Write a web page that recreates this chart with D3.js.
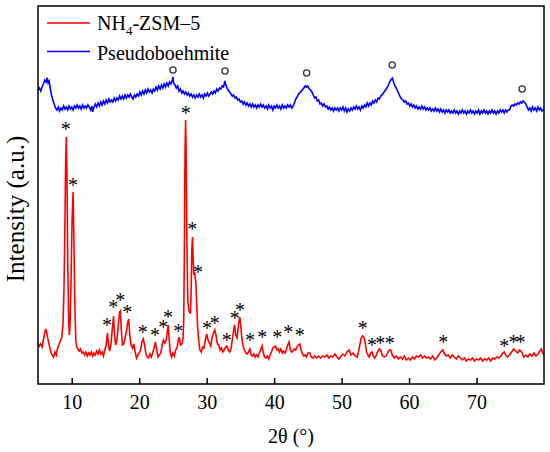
<!DOCTYPE html>
<meta charset="utf-8">
<style>

body { margin: 0; background: #fff; }

svg, svg text {
  font-family: "Liberation Serif", "Times New Roman", Times, serif;
  fill: #000;
}

.frame {
  fill: none;
  stroke: #000;
  stroke-width: 1.5px;
}

.axis path { display: none; }

.axis line {
  stroke: #000;
  stroke-width: 1.5px;
}

.line-zsm {
  fill: none;
  stroke: #ff0000;
  stroke-width: 1.6px;
}

.line-pb {
  fill: none;
  stroke: #0000ff;
  stroke-width: 1.6px;
}

.ring {
  fill: none;
  stroke: #333;
  stroke-width: 1.3px;
}

</style>
<svg width="550" height="452"></svg>
<script src="https://d3js.org/d3.v7.min.js"></script>
<script>

var serif = "'Liberation Serif', 'Times New Roman', serif";

// 2theta (deg), intensity (a.u.)
var zsmPattern = [[5.0,41],[5.2,38],[5.4,40],[5.6,37],[5.8,44],[6.0,51],[6.15,55],[6.3,51],[6.5,44],[6.7,38],[6.9,32],[7.1,29],[7.3,27],[7.5,32],[7.7,29],[7.9,36],[8.1,39],[8.3,43],[8.5,46],[8.7,59],[8.85,94],[9.0,164],[9.1,224],[9.2,247],[9.3,204],[9.4,124],[9.55,64],[9.65,49],[9.75,59],[9.9,104],[10.05,164],[10.2,192],[10.3,154],[10.45,84],[10.6,44],[10.75,37],[10.9,35],[11.1,33],[11.3,35],[11.5,31],[11.7,32],[11.9,29],[12.1,32],[12.3,28],[12.5,31],[12.7,29],[12.9,32],[13.1,28],[13.3,31],[13.5,29],[13.7,33],[13.9,30],[14.1,34],[14.3,30],[14.5,32],[14.7,28],[14.9,34],[15.1,39],[15.3,51],[15.45,39],[15.6,33],[15.8,39],[16.0,54],[16.2,68],[16.35,49],[16.5,39],[16.7,44],[16.9,59],[17.1,72],[17.2,73],[17.35,54],[17.5,39],[17.7,40],[17.9,46],[18.1,52],[18.3,62],[18.45,65],[18.6,49],[18.8,39],[19.0,36],[19.2,40],[19.4,32],[19.6,26],[19.8,29],[20.0,31],[20.2,34],[20.4,42],[20.6,45],[20.8,39],[21.0,30],[21.2,27],[21.4,26],[21.6,30],[21.8,27],[22.0,31],[22.2,36],[22.4,42],[22.6,34],[22.8,27],[23.0,29],[23.2,31],[23.4,39],[23.6,44],[23.8,41],[24.0,44],[24.15,52],[24.3,59],[24.45,44],[24.6,32],[24.8,27],[25.0,31],[25.2,28],[25.4,34],[25.6,36],[25.8,44],[25.95,47],[26.1,39],[26.3,40],[26.5,46],[26.6,64],[26.7,134],[26.75,199],[26.8,234],[26.88,264],[26.95,234],[27.05,154],[27.2,84],[27.35,74],[27.5,71],[27.6,71],[27.7,94],[27.8,134],[27.9,147],[28.0,124],[28.1,109],[28.2,112],[28.3,106],[28.4,102],[28.5,84],[28.65,59],[28.8,44],[29.0,34],[29.2,32],[29.4,37],[29.6,36],[29.8,44],[30.0,50],[30.2,44],[30.4,41],[30.6,38],[30.8,46],[31.0,51],[31.2,54],[31.4,48],[31.6,40],[31.8,39],[32.0,34],[32.2,36],[32.4,32],[32.6,34],[32.8,37],[33.0,38],[33.2,34],[33.4,32],[33.6,35],[33.8,44],[34.0,54],[34.15,59],[34.3,49],[34.5,46],[34.7,59],[34.9,67],[35.05,59],[35.2,46],[35.4,38],[35.6,34],[35.8,31],[36.0,30],[36.2,32],[36.4,35],[36.6,29],[36.8,28],[37.0,30],[37.2,27],[37.4,29],[37.6,27],[37.8,31],[38.0,34],[38.2,38],[38.4,31],[38.6,27],[38.8,26],[39.0,28],[39.2,25],[39.4,29],[39.6,32],[39.8,36],[40.0,37],[40.2,38],[40.4,34],[40.6,35],[40.8,32],[41.0,35],[41.2,31],[41.4,33],[41.6,31],[41.8,34],[42.0,39],[42.2,42],[42.4,34],[42.6,32],[42.8,33],[43.0,35],[43.2,34],[43.4,37],[43.6,39],[43.8,40],[44.0,34],[44.2,30],[44.4,28],[44.6,29],[44.8,27],[45.0,31],[45.3,31],[45.5,27],[45.8,26],[46.0,28],[46.3,26],[46.6,28],[46.9,26],[47.2,28],[47.5,27],[47.8,29],[48.1,26],[48.4,28],[48.7,27],[49.0,30],[49.3,27],[49.6,25],[49.9,28],[50.2,30],[50.5,28],[50.8,32],[51.1,34],[51.4,29],[51.7,31],[52.0,28],[52.3,27],[52.5,32],[52.7,39],[52.9,46],[53.1,48],[53.3,47],[53.5,41],[53.7,32],[53.9,29],[54.1,27],[54.3,31],[54.5,32],[54.7,28],[54.9,26],[55.1,28],[55.3,32],[55.6,35],[55.8,34],[56.0,29],[56.3,27],[56.6,28],[56.9,32],[57.1,34],[57.3,34],[57.5,29],[57.8,26],[58.1,28],[58.4,25],[58.7,27],[59.0,25],[59.3,28],[59.6,24],[59.9,26],[60.2,24],[60.5,27],[60.8,25],[61.1,28],[61.4,27],[61.7,29],[62.0,26],[62.3,28],[62.6,26],[62.9,27],[63.2,25],[63.5,28],[63.8,24],[64.1,26],[64.4,29],[64.7,32],[65.0,34],[65.2,31],[65.5,28],[65.8,29],[66.1,26],[66.4,29],[66.7,27],[67.0,25],[67.3,28],[67.6,26],[67.9,24],[68.2,26],[68.5,23],[68.8,25],[69.1,24],[69.4,26],[69.7,23],[70.0,25],[70.3,24],[70.6,26],[70.9,23],[71.2,25],[71.5,24],[71.8,26],[72.1,23],[72.4,26],[72.7,25],[73.0,27],[73.3,26],[73.6,28],[73.9,31],[74.1,32],[74.3,29],[74.6,27],[74.9,29],[75.2,32],[75.5,35],[75.8,33],[76.1,31],[76.4,34],[76.7,32],[77.0,27],[77.3,29],[77.6,27],[77.9,30],[78.2,28],[78.5,31],[78.8,28],[79.1,30],[79.4,33],[79.6,35],[79.8,31],[80.0,29]];

var pbPattern = [[5.0,294],[5.2,296],[5.4,293],[5.6,297],[5.8,300],[6.0,304],[6.2,302],[6.35,306],[6.5,301],[6.65,303],[6.8,296],[7.0,289],[7.2,284],[7.4,280],[7.6,276],[7.8,274],[8.0,277],[8.2,273],[8.4,276],[8.6,274],[8.8,278],[9.0,275],[9.2,277],[9.4,274],[9.6,278],[9.8,275],[10.0,277],[10.2,274],[10.4,278],[10.6,276],[10.8,279],[11.0,276],[11.2,278],[11.4,275],[11.6,279],[11.8,276],[12.0,278],[12.2,276],[12.4,279],[12.6,277],[12.8,274],[13.0,278],[13.1,272],[13.3,277],[13.5,280],[13.7,277],[13.9,281],[14.1,278],[14.3,282],[14.5,279],[14.7,283],[14.9,280],[15.1,284],[15.3,281],[15.5,285],[15.7,282],[15.9,284],[16.1,282],[16.3,286],[16.5,283],[16.7,286],[16.9,284],[17.1,288],[17.3,285],[17.5,288],[17.7,285],[17.9,289],[18.1,286],[18.3,289],[18.5,287],[18.7,290],[18.9,287],[19.1,285],[19.3,289],[19.5,287],[19.7,290],[19.9,288],[20.1,292],[20.3,289],[20.5,293],[20.7,290],[20.9,294],[21.1,291],[21.3,295],[21.5,292],[21.7,294],[21.9,291],[22.1,295],[22.3,293],[22.5,297],[22.7,294],[22.9,298],[23.1,295],[23.3,299],[23.5,296],[23.7,300],[23.9,297],[24.1,301],[24.3,298],[24.5,302],[24.7,300],[24.9,304],[25.0,307],[25.1,301],[25.3,299],[25.5,296],[25.7,298],[25.9,293],[26.1,295],[26.3,291],[26.5,293],[26.7,290],[26.9,292],[27.1,289],[27.3,291],[27.5,288],[27.7,290],[27.9,287],[28.1,289],[28.3,286],[28.5,289],[28.7,287],[28.9,290],[29.1,287],[29.3,289],[29.5,286],[29.7,290],[29.9,288],[30.1,291],[30.3,288],[30.5,290],[30.7,292],[30.9,290],[31.1,293],[31.3,291],[31.5,295],[31.7,293],[31.9,296],[32.1,295],[32.3,298],[32.5,297],[32.7,303],[32.8,300],[33.0,296],[33.2,294],[33.4,292],[33.6,290],[33.8,288],[34.0,289],[34.2,286],[34.4,287],[34.6,284],[34.8,285],[35.0,282],[35.2,283],[35.4,280],[35.6,282],[35.8,279],[36.0,281],[36.2,278],[36.4,280],[36.6,277],[36.8,280],[37.0,277],[37.2,279],[37.4,276],[37.6,279],[37.8,277],[38.0,280],[38.2,277],[38.4,279],[38.6,276],[38.8,278],[39.0,275],[39.2,279],[39.4,276],[39.6,278],[39.8,274],[40.0,278],[40.2,276],[40.4,279],[40.6,276],[40.8,278],[41.0,275],[41.2,279],[41.4,276],[41.6,278],[41.8,276],[42.0,279],[42.2,277],[42.4,279],[42.6,276],[42.8,278],[43.0,281],[43.2,285],[43.4,287],[43.6,290],[43.8,291],[44.0,293],[44.2,294],[44.4,296],[44.6,298],[44.8,297],[45.0,298],[45.2,295],[45.4,294],[45.6,292],[45.8,289],[46.0,286],[46.2,287],[46.4,283],[46.6,284],[46.8,280],[47.0,281],[47.2,278],[47.4,280],[47.6,277],[47.8,278],[48.0,275],[48.2,277],[48.4,274],[48.6,276],[48.8,273],[49.0,276],[49.2,274],[49.4,276],[49.6,273],[49.8,276],[50.0,274],[50.2,277],[50.4,273],[50.6,276],[50.8,272],[51.0,275],[51.2,273],[51.4,276],[51.6,274],[51.8,277],[52.0,275],[52.2,278],[52.4,275],[52.6,277],[52.8,274],[53.0,278],[53.2,276],[53.4,279],[53.6,277],[53.8,281],[54.0,278],[54.2,281],[54.4,279],[54.6,283],[54.8,281],[55.0,284],[55.2,282],[55.4,286],[55.6,285],[55.8,288],[56.0,289],[56.2,291],[56.4,293],[56.6,295],[56.8,297],[57.0,300],[57.2,303],[57.4,305],[57.55,306],[57.7,302],[57.9,298],[58.1,296],[58.3,293],[58.5,290],[58.7,287],[58.9,285],[59.1,284],[59.3,282],[59.5,283],[59.7,280],[59.9,281],[60.1,278],[60.3,280],[60.5,277],[60.7,279],[60.9,276],[61.1,278],[61.3,275],[61.5,277],[61.7,275],[61.9,278],[62.1,275],[62.3,277],[62.5,274],[62.7,276],[62.9,274],[63.1,276],[63.3,273],[63.5,275],[63.7,273],[63.9,276],[64.1,273],[64.3,275],[64.5,272],[64.7,275],[64.9,272],[65.1,274],[65.3,271],[65.5,274],[65.7,272],[65.9,274],[66.1,271],[66.3,273],[66.5,271],[66.7,274],[66.9,271],[67.1,273],[67.3,270],[67.5,273],[67.7,271],[67.9,274],[68.1,271],[68.3,273],[68.5,270],[68.7,273],[68.9,271],[69.1,274],[69.3,271],[69.5,273],[69.7,270],[69.9,273],[70.1,271],[70.3,274],[70.5,270],[70.7,273],[70.9,271],[71.1,274],[71.3,271],[71.5,273],[71.7,270],[71.9,273],[72.1,271],[72.3,274],[72.5,271],[72.7,273],[72.9,270],[73.1,273],[73.3,271],[73.5,274],[73.7,272],[73.9,274],[74.1,271],[74.3,274],[74.5,272],[74.7,274],[74.9,274],[75.1,278],[75.3,279],[75.5,278],[75.7,280],[75.9,279],[76.1,281],[76.3,280],[76.5,282],[76.7,281],[76.9,283],[77.1,282],[77.3,280],[77.5,277],[77.7,274],[77.9,276],[78.1,273],[78.3,277],[78.5,274],[78.7,276],[78.9,273],[79.1,277],[79.3,274],[79.5,276],[79.7,273],[80.0,275]];

// ZSM-5 reflections (*) and boehmite reflections (o), label positions
var starMarks = [[9.12,258],[10.2,202],[26.9,274],[27.88,158],[28.7,115],[15.24,62],[16.17,80],[17.2,87],[18.24,75],[20.53,55],[22.35,52],[23.58,60],[24.27,70],[25.8,56],[30.05,59],[31.19,64],[32.97,47],[34.16,69],[34.94,77],[36.42,47],[38.24,50],[40.47,50],[42.1,55],[43.79,52],[53.12,59],[54.5,42],[55.73,44],[57.12,44],[65.06,45],[74.1,41],[75.49,45],[76.53,45]];
var ringMarks = [[25.01,314],[32.72,313],[44.82,311],[57.5,319],[76.76,295]];

var xTicks = [10, 20, 30, 40, 50, 60, 70];
var xRange = [5, 80];
var yRange = [0, 378];

var svg = d3.select("svg"),
    margin = {top: 6, right: 6, bottom: 68, left: 38},
    width = +svg.attr("width") - margin.left - margin.right,
    height = +svg.attr("height") - margin.top - margin.bottom;

var x = d3.scaleLinear().domain(xRange).range([0, width]),
    y = d3.scaleLinear().domain(yRange).range([height, 0]);

var g = svg.append("g")
    .attr("transform", "translate(" + margin.left + "," + margin.top + ")");

var line = d3.line()
    .x(function(d) { return x(d[0]); })
    .y(function(d) { return y(d[1]); });

g.append("path")
    .datum(pbPattern)
    .attr("class", "line-pb")
    .attr("d", line);

g.append("path")
    .datum(zsmPattern)
    .attr("class", "line-zsm")
    .attr("d", line);

g.selectAll(".star")
    .data(starMarks)
  .enter().append("text")
    .attr("class", "star")
    .attr("x", function(d) { return x(d[0]); })
    .attr("y", function(d) { return y(d[1]) + 9.5; })
    .attr("text-anchor", "middle")
    .attr("font-family", serif)
    .attr("font-size", 20)
    .text("*");

g.selectAll(".ring")
    .data(ringMarks)
  .enter().append("circle")
    .attr("class", "ring")
    .attr("cx", function(d) { return x(d[0]); })
    .attr("cy", function(d) { return y(d[1]); })
    .attr("r", 3.1);

g.append("g")
    .attr("class", "axis axis--x")
    .attr("transform", "translate(0," + height + ")")
    .call(d3.axisBottom(x).tickValues(xTicks).tickSizeInner(-6).tickSizeOuter(0).tickPadding(11))
    .attr("font-family", serif)
    .attr("font-size", 20);

g.append("rect")
    .attr("class", "frame")
    .attr("width", width)
    .attr("height", height);

// legend
var legend = g.append("g")
    .attr("transform", "translate(9,0)")
    .attr("font-family", serif)
    .attr("font-size", 20);

legend.append("line")
    .attr("x1", 0).attr("x2", 43)
    .attr("y1", 17).attr("y2", 17)
    .attr("stroke", "#ff0000").attr("stroke-width", 1.5);

var t1 = legend.append("text")
    .attr("x", 50).attr("y", 24);
t1.append("tspan").text("NH");
t1.append("tspan").attr("dy", 5).attr("font-size", 13).text("4");
t1.append("tspan").attr("dy", -5).text("-ZSM\u20135");

legend.append("line")
    .attr("x1", 0).attr("x2", 43)
    .attr("y1", 45.5).attr("y2", 45.5)
    .attr("stroke", "#0000ff").attr("stroke-width", 1.5);

legend.append("text")
    .attr("x", 50).attr("y", 54)
    .text("Pseudoboehmite");

// axis titles
svg.append("text")
    .attr("x", margin.left + width / 2)
    .attr("y", 443)
    .attr("text-anchor", "middle")
    .attr("font-family", serif)
    .attr("font-size", 20)
    .text("2\u03b8 (\u00b0)");

svg.append("text")
    .attr("transform", "translate(24,209) rotate(-90)")
    .attr("text-anchor", "middle")
    .attr("font-family", serif)
    .attr("font-size", 25)
    .text("Intensity (a.u.)");

</script>
